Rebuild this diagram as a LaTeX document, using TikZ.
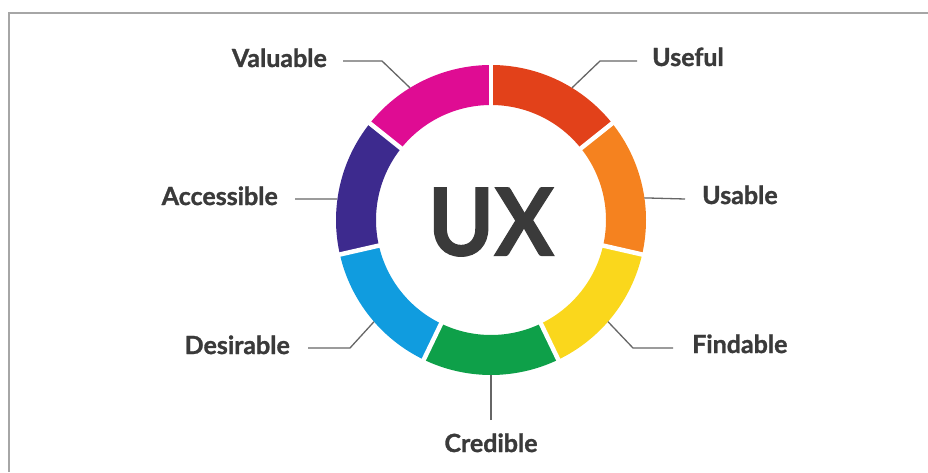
\documentclass[tikz,border=0pt]{standalone}
\usepackage{fontspec}
\setmainfont{Lato}[BoldFeatures={FakeBold=1.2}]
\definecolor{txt}{HTML}{3A3A3A}
\definecolor{lead}{HTML}{666666}
\definecolor{frame}{HTML}{A6A6A6}
\definecolor{cUseful}{HTML}{E2411A}
\definecolor{cUsable}{HTML}{F5821F}
\definecolor{cFind}{HTML}{FAD71C}
\definecolor{cCred}{HTML}{0EA049}
\definecolor{cDes}{HTML}{109CDF}
\definecolor{cAcc}{HTML}{3D2A8E}
\definecolor{cVal}{HTML}{DF0C93}
\begin{document}
\begin{tikzpicture}[x=1pt,y=1pt,
  lbl/.style={font=\bfseries\fontsize{25}{25}\selectfont, text=txt, inner sep=0pt},
  leader/.style={draw=lead, line width=1.3pt},
  gapline/.style={draw=white, line width=4.5pt}]
\useasboundingbox (0,0) rectangle (928,472);
\draw[draw=frame, line width=2pt] (9,0) -- (9,459) -- (928,459);
\coordinate (c) at (491,252);
\begin{scope}[shift={(491,252)}]
  \foreach \a/\b/\col in {90/38.571/cUseful, 38.571/-12.857/cUsable, -12.857/-64.286/cFind, -64.286/-115.714/cCred, -115.714/-167.143/cDes, -167.143/-218.571/cAcc, -218.571/-270/cVal}
    \fill[\col] (\a:155) arc[start angle=\a, end angle=\b, radius=155] -- (\b:115) arc[start angle=\b, end angle=\a, radius=115] -- cycle;
  \foreach \a in {90, 38.571, -12.857, -64.286, -115.714, -167.143, -218.571}
    \draw[gapline] (\a:110) -- (\a:160);
  \coordinate (pVal) at (121.5:155);
  \coordinate (pUse) at (58.5:155);
  \coordinate (pAcc) at (172.2:155);
  \coordinate (pUsa) at (8.2:155);
  \coordinate (pDes) at (-139:155);
  \coordinate (pFin) at (-41:155);
  \coordinate (pCre) at (-90:155);
\end{scope}
\node[font=\bfseries\fontsize{94}{94}\selectfont, text=txt, inner sep=0pt, xscale=0.95] (ux) at (491,250) {UX};

\node[lbl, anchor=base east] (lVal) at (327,405) {Valuable};
\node[lbl, anchor=base west] (lUse) at (652,406) {Useful};
\node[lbl, anchor=base east] (lAcc) at (278,267) {Accessible};
\node[lbl, anchor=base west] (lUsa) at (702,268) {Usable};
\node[lbl, anchor=base east] (lDes) at (290,118) {Desirable};
\node[lbl, anchor=base west] (lFin) at (692,119) {Findable};
\node[lbl, anchor=base] (lCre) at (491,20) {Credible};

\coordinate (sVal) at (343,411);
\coordinate (kVal) at (382,411);
\coordinate (sUse) at (637,411);
\coordinate (kUse) at (600,411);
\coordinate (sAcc) at (295,273);
\coordinate (sUsa) at (685,273);
\coordinate (sDes) at (308,124);
\coordinate (kDes) at (350,124);
\coordinate (sFin) at (673,124);
\coordinate (kFin) at (633,124);
\coordinate (sCre) at (491,52);

\draw[leader] (sVal) -- (kVal) -- (pVal);
\draw[leader] (sUse) -- (kUse) -- (pUse);
\draw[leader] (sAcc) -- (pAcc);
\draw[leader] (sUsa) -- (pUsa);
\draw[leader] (sDes) -- (kDes) -- (pDes);
\draw[leader] (sFin) -- (kFin) -- (pFin);
\draw[leader] (sCre) -- (pCre);
\end{tikzpicture}
\end{document}
